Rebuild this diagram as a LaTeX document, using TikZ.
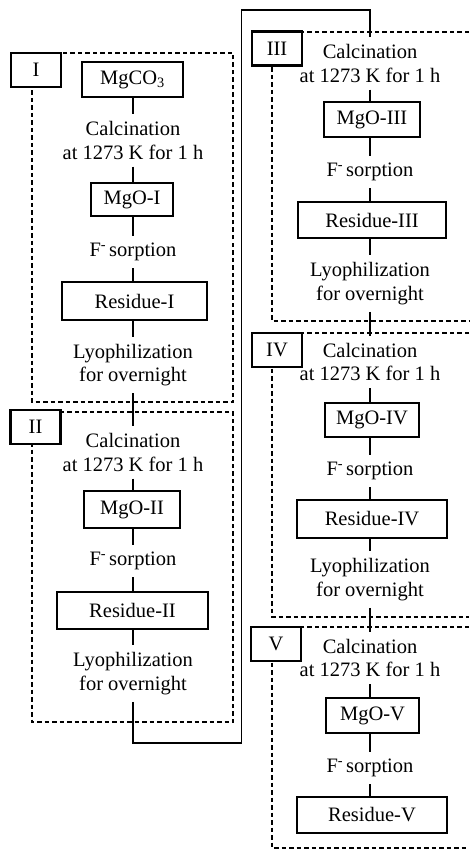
\documentclass[tikz,border=0pt]{standalone}
\usepackage{fontspec}
\setmainfont{Liberation Serif}
\begin{document}
\begin{tikzpicture}[x=1pt,y=-1pt,
  every node/.style={font=\fontsize{20.5}{23.5}\selectfont},
  stepbox/.style={draw, line width=1.3pt, inner sep=0pt},
  tagbox/.style={draw, line width=2.2pt, fill=white, inner sep=0pt, minimum width=50pt, minimum height=34pt},
  txt/.style={align=center, inner xsep=2pt, inner ysep=7pt},
  conn/.style={line width=1.4pt},
  frame/.style={line width=1.1pt, dash pattern=on 4.5pt off 3pt}]
\useasboundingbox (0,0) rectangle (469,850);

% ---------- dashed frames ----------
\draw[frame] (32,53) rectangle (233,402);
\draw[frame] (32,412) rectangle (233,722);
\draw[frame] (469,32) -- (272,32) -- (272,321) -- (469,321);
\draw[frame] (469,333) -- (272,333) -- (272,617) -- (469,617);
\draw[frame] (469,627) -- (272,627) -- (272,848) -- (469,848);

% ---------- tags ----------
\node[tagbox] (tI)   at (36,70)    {I};
\node[tagbox] (tII)  at (35.5,427) {II};
\node[tagbox] (tIII) at (277,48.5) {III};
\node[tagbox] (tIV)  at (277,350)  {IV};
\node[tagbox] (tV)   at (276,644)  {V};

% ---------- column 1 ----------
\node[stepbox, minimum width=101pt, minimum height=35pt] (mgco3) at (132.5,79.5) {MgCO\textsubscript{3}};
\node[txt] (calc1) at (133,140.5) {Calcination\\at 1273 K for 1 h};
\node[stepbox, minimum width=82pt, minimum height=33pt] (mgo1) at (132,199.5) {MgO-I};
\node[txt] (sorp1) at (133,252) {F\textsuperscript{-}\hspace{3pt}sorption};
\node[stepbox, minimum width=145pt, minimum height=38pt] (res1) at (134.5,301) {Residue-I};
\node[txt] (lyo1) at (133,365) {Lyophilization\\for overnight};

\node[txt] (calc2) at (133,452.5) {Calcination\\at 1273 K for 1 h};
\node[stepbox, minimum width=96pt, minimum height=37pt] (mgo2) at (132,509.5) {MgO-II};
\node[txt] (sorp2) at (133,561) {F\textsuperscript{-}\hspace{3pt}sorption};
\node[stepbox, minimum width=151pt, minimum height=37pt] (res2) at (132.5,610.5) {Residue-II};
\node[txt] (lyo2) at (133,673.5) {Lyophilization\\for overnight};

% ---------- column 2 ----------
\node[txt] (calc3) at (370,63.5) {Calcination\\at 1273 K for 1 h};
\node[stepbox, minimum width=96pt, minimum height=35pt] (mgo3) at (372,119.5) {MgO-III};
\node[txt] (sorp3) at (370,172) {F\textsuperscript{-}\hspace{3pt}sorption};
\node[stepbox, minimum width=148pt, minimum height=36pt] (res3) at (372,220) {Residue-III};
\node[txt] (lyo3) at (370,283.5) {Lyophilization\\for overnight};

\node[txt] (calc4) at (370,362) {Calcination\\at 1273 K for 1 h};
\node[stepbox, minimum width=94pt, minimum height=34pt] (mgo4) at (372,420) {MgO-IV};
\node[txt] (sorp4) at (370,471) {F\textsuperscript{-}\hspace{3pt}sorption};
\node[stepbox, minimum width=150pt, minimum height=38pt] (res4) at (372,519) {Residue-IV};
\node[txt] (lyo4) at (370,579.5) {Lyophilization\\for overnight};

\node[txt] (calc5) at (370,658) {Calcination\\at 1273 K for 1 h};
\node[stepbox, minimum width=93pt, minimum height=35pt] (mgo5) at (372.5,715.5) {MgO-V};
\node[txt] (sorp5) at (370,768) {F\textsuperscript{-}\hspace{3pt}sorption};
\node[stepbox, minimum width=150pt, minimum height=36pt] (res5) at (372,815) {Residue-V};

% ---------- connectors ----------
\draw[conn] (mgco3.south -| calc1) -- (calc1.north);
\draw[conn] (calc1.south) -- (mgo1.north -| calc1);
\draw[conn] (mgo1.south -| sorp1) -- (sorp1.north);
\draw[conn] (sorp1.south) -- (res1.north -| sorp1);
\draw[conn] (res1.south -| lyo1) -- (lyo1.north);
\draw[conn] (lyo1.south) -- (calc2.north);
\draw[conn] (calc2.south) -- (mgo2.north -| calc2);
\draw[conn] (mgo2.south -| sorp2) -- (sorp2.north);
\draw[conn] (sorp2.south) -- (res2.north -| sorp2);
\draw[conn] (res2.south -| lyo2) -- (lyo2.north);

\coordinate (t1) at (241.5,743);
\coordinate (t2) at (241.5,10);
\draw[conn] (lyo2.south) |- (t1) -- (t2) -| (calc3.north);

\draw[conn] (calc3.south) -- (mgo3.north -| calc3);
\draw[conn] (mgo3.south -| sorp3) -- (sorp3.north);
\draw[conn] (sorp3.south) -- (res3.north -| sorp3);
\draw[conn] (res3.south -| lyo3) -- (lyo3.north);
\draw[conn] (lyo3.south) -- (calc4.north);
\draw[conn] (calc4.south) -- (mgo4.north -| calc4);
\draw[conn] (mgo4.south -| sorp4) -- (sorp4.north);
\draw[conn] (sorp4.south) -- (res4.north -| sorp4);
\draw[conn] (res4.south -| lyo4) -- (lyo4.north);
\draw[conn] (lyo4.south) -- (calc5.north);
\draw[conn] (calc5.south) -- (mgo5.north -| calc5);
\draw[conn] (mgo5.south -| sorp5) -- (sorp5.north);
\draw[conn] (sorp5.south) -- (res5.north -| sorp5);
\end{tikzpicture}
\end{document}
